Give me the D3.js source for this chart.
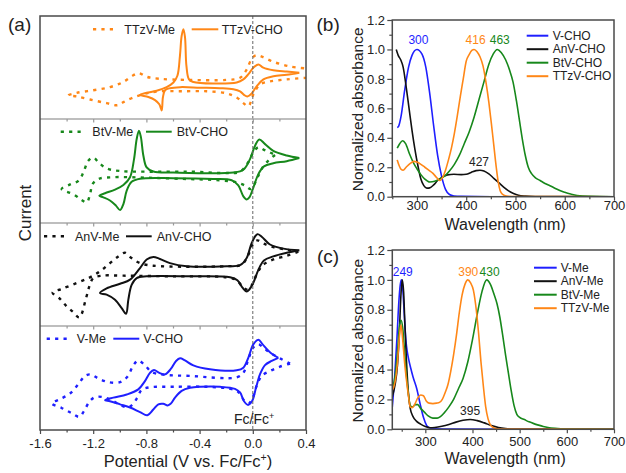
<!DOCTYPE html>
<html><head><meta charset="utf-8">
<script src="https://cdn.jsdelivr.net/npm/d3@7"></script>
<style>
html,body{margin:0;padding:0;background:#fff;}
svg{display:block;font-family:"Liberation Sans",Arial,sans-serif;}
</style></head><body>
<svg id="chart" width="626" height="473"></svg>
<script>
// ================= DATA =================
// Panel (a): cyclic voltammograms, [potential (V vs Fc/Fc+), relative current]
const cvMajorTicks = [-1.6,-1.2,-0.8,-0.4,0.0,0.4];
const cvMinorTicks = [-1.4,-1.0,-0.6,-0.2,0.2];

const cvTTzVCHO = [[0.35,-0.09],[0.255,-0.13],[0.155,-0.16],[0.08,-0.22],[0.03,-0.35],[-0.008,-0.49],[-0.041,-0.55],[-0.066,-0.52],[-0.096,-0.45],[-0.146,-0.41],[-0.247,-0.39],[-0.397,-0.38],[-0.547,-0.37],[-0.623,-0.39],[-0.66,-0.43],[-0.676,-0.57],[-0.685,-0.82],[-0.703,-0.70],[-0.735,-0.62],[-0.785,-0.56],[-0.848,-0.52],[-0.798,-0.48],[-0.723,-0.44],[-0.648,-0.37],[-0.597,-0.28],[-0.567,-0.15],[-0.548,0.23],[-0.535,0.62],[-0.522,0.75],[-0.51,0.60],[-0.499,0.04],[-0.48,-0.22],[-0.447,-0.27],[-0.297,-0.30],[-0.121,-0.28],[-0.071,-0.22],[-0.033,-0.12],[0.004,0.006],[0.042,0.07],[0.079,0.006],[0.154,-0.045],[0.255,-0.07],[0.35,-0.09]];
const cvTTzVMe = [[0.405,-0.19],[0.255,-0.22],[0.129,-0.26],[0.054,-0.32],[0.004,-0.51],[-0.034,-0.74],[-0.071,-0.68],[-0.121,-0.57],[-0.197,-0.49],[-0.347,-0.45],[-0.547,-0.45],[-0.698,-0.45],[-0.798,-0.49],[-0.898,-0.57],[-0.973,-0.66],[-1.019,-0.72],[-1.099,-0.68],[-1.224,-0.61],[-1.324,-0.55],[-1.387,-0.53],[-1.324,-0.48],[-1.199,-0.43],[-1.074,-0.37],[-0.973,-0.27],[-0.898,-0.14],[-0.856,-0.10],[-0.798,-0.17],[-0.698,-0.21],[-0.497,-0.23],[-0.197,-0.23],[-0.096,-0.19],[-0.046,-0.03],[-0.008,0.18],[0.024,0.245],[0.067,0.22],[0.154,0.12],[0.28,0.03],[0.405,-0.01]];

const cvBtVCHO = [[0.35,0.25],[0.255,0.19],[0.154,0.15],[0.084,0.09],[0.042,-0.06],[0.004,-0.32],[-0.026,-0.51],[-0.046,-0.55],[-0.071,-0.49],[-0.109,-0.28],[-0.159,-0.18],[-0.297,-0.155],[-0.597,-0.14],[-0.848,-0.15],[-0.911,-0.21],[-0.948,-0.38],[-0.973,-0.64],[-0.998,-0.755],[-1.029,-0.67],[-1.074,-0.57],[-1.124,-0.51],[-1.154,-0.48],[-1.111,-0.43],[-1.036,-0.36],[-0.973,-0.27],[-0.923,-0.12],[-0.893,0.23],[-0.873,0.62],[-0.856,0.78],[-0.841,0.65],[-0.823,0.30],[-0.798,0.07],[-0.748,-0.01],[-0.597,-0.03],[-0.146,-0.03],[-0.071,0.025],[-0.021,0.23],[0.017,0.49],[0.049,0.61],[0.092,0.52],[0.154,0.39],[0.255,0.30],[0.35,0.25]];
const cvBtVMe = [[0.167,0.31],[0.124,0.22],[0.079,0.09],[0.042,-0.09],[0.009,-0.27],[-0.016,-0.35],[-0.059,-0.28],[-0.121,-0.22],[-0.247,-0.18],[-0.497,-0.155],[-0.798,-0.13],[-1.049,-0.12],[-1.161,-0.155],[-1.204,-0.25],[-1.224,-0.45],[-1.249,-0.61],[-1.287,-0.56],[-1.349,-0.45],[-1.437,-0.35],[-1.374,-0.26],[-1.312,-0.19],[-1.274,-0.03],[-1.237,0.20],[-1.199,0.26],[-1.161,0.17],[-1.099,0.05],[-0.998,0.0],[-0.798,-0.013],[-0.472,-0.013],[-0.197,-0.04],[-0.096,-0.013],[-0.034,0.17],[0.004,0.36],[0.042,0.46],[0.084,0.41],[0.129,0.36],[0.167,0.31]];

const cvAnVCHO = [[0.35,0.48],[0.255,0.43],[0.154,0.36],[0.084,0.28],[0.042,0.10],[0.004,-0.15],[-0.026,-0.28],[-0.046,-0.32],[-0.076,-0.25],[-0.116,-0.10],[-0.171,-0.045],[-0.472,-0.026],[-0.798,-0.026],[-0.873,-0.06],[-0.911,-0.19],[-0.936,-0.48],[-0.953,-0.75],[-0.986,-0.64],[-1.036,-0.48],[-1.099,-0.38],[-1.149,-0.35],[-1.099,-0.26],[-0.998,-0.17],[-0.923,-0.09],[-0.848,0.135],[-0.798,0.30],[-0.748,0.35],[-0.698,0.31],[-0.623,0.23],[-0.497,0.17],[-0.197,0.17],[-0.096,0.19],[-0.046,0.33],[-0.008,0.62],[0.034,0.79],[0.067,0.74],[0.129,0.59],[0.23,0.51],[0.35,0.48]];
const cvAnVMe = [[0.342,0.45],[0.255,0.37],[0.154,0.30],[0.079,0.20],[0.034,0.04],[-0.006,-0.19],[-0.041,-0.28],[-0.076,-0.23],[-0.121,-0.10],[-0.197,-0.045],[-0.597,-0.026],[-0.973,-0.013],[-1.136,-0.013],[-1.199,-0.06],[-1.229,-0.22],[-1.254,-0.45],[-1.304,-0.82],[-1.349,-0.72],[-1.399,-0.61],[-1.45,-0.46],[-1.505,-0.34],[-1.437,-0.27],[-1.324,-0.155],[-1.224,-0.045],[-1.149,0.07],[-1.074,0.23],[-1.011,0.36],[-0.961,0.43],[-0.918,0.34],[-0.848,0.23],[-0.748,0.18],[-0.197,0.17],[-0.084,0.20],[-0.034,0.39],[0.004,0.61],[0.034,0.67],[0.079,0.61],[0.154,0.54],[0.255,0.49],[0.342,0.45]];

const cvVCHO = [[0.192,0.39],[0.142,0.33],[0.092,0.25],[0.054,0.07],[0.024,-0.19],[-0.006,-0.45],[-0.036,-0.52],[-0.066,-0.45],[-0.096,-0.28],[-0.134,-0.21],[-0.247,-0.17],[-0.397,-0.17],[-0.472,-0.19],[-0.535,-0.25],[-0.585,-0.38],[-0.618,-0.50],[-0.64,-0.53],[-0.673,-0.50],[-0.71,-0.51],[-0.748,-0.61],[-0.793,-0.72],[-0.848,-0.66],[-0.923,-0.57],[-0.998,-0.51],[-1.074,-0.45],[-1.111,-0.43],[-1.049,-0.38],[-0.948,-0.32],[-0.861,-0.22],[-0.811,-0.06],[-0.773,0.10],[-0.743,0.155],[-0.703,0.10],[-0.66,0.07],[-0.618,0.17],[-0.577,0.33],[-0.547,0.38],[-0.51,0.34],[-0.447,0.245],[-0.322,0.17],[-0.121,0.15],[-0.071,0.20],[-0.034,0.39],[0.004,0.65],[0.042,0.74],[0.074,0.65],[0.129,0.50],[0.192,0.39]];
const cvVMe = [[0.28,0.28],[0.205,0.22],[0.129,0.135],[0.067,0.04],[0.029,-0.15],[-0.001,-0.38],[-0.031,-0.49],[-0.066,-0.43],[-0.109,-0.27],[-0.171,-0.21],[-0.347,-0.17],[-0.597,-0.17],[-0.773,-0.18],[-0.836,-0.23],[-0.868,-0.38],[-0.911,-0.53],[-0.943,-0.57],[-0.998,-0.52],[-1.061,-0.43],[-1.124,-0.37],[-1.186,-0.37],[-1.229,-0.46],[-1.269,-0.64],[-1.304,-0.75],[-1.362,-0.68],[-1.437,-0.58],[-1.512,-0.49],[-1.45,-0.41],[-1.374,-0.30],[-1.312,-0.12],[-1.262,0.04],[-1.219,0.07],[-1.161,-0.01],[-1.086,-0.08],[-0.998,-0.08],[-0.943,0.026],[-0.898,0.245],[-0.861,0.34],[-0.811,0.245],[-0.76,0.116],[-0.673,0.065],[-0.472,0.04],[-0.121,0.013],[-0.071,0.10],[-0.034,0.36],[0.004,0.59],[0.042,0.65],[0.079,0.59],[0.129,0.49],[0.205,0.38],[0.28,0.28]];

// Panel (b): UV-vis of -CHO compounds, [wavelength nm, normalized absorbance]
const uvTicksBX = [300,400,500,600,700];
const uvMinorBX = [250,350,450,550,650];
const uvTicksY = [0.0,0.2,0.4,0.6,0.8,1.0,1.2];
const uvMinorY = [0.1,0.3,0.5,0.7,0.9,1.1];
const absVCHO = [[260,0.47],[263,0.48],[268,0.55],[275,0.72],[283,0.88],[290,0.96],[300,1.0],[310,0.97],[318,0.88],[326,0.70],[334,0.48],[342,0.28],[350,0.14],[358,0.05],[366,0.015],[375,0.005],[390,0.002],[450,0],[700,0]];
const absAnVCHO = [[258,1.0],[262,0.96],[267,0.93],[272,0.88],[278,0.75],[284,0.6],[290,0.45],[296,0.32],[302,0.21],[308,0.12],[314,0.075],[320,0.058],[326,0.06],[334,0.08],[342,0.11],[352,0.135],[362,0.148],[375,0.152],[390,0.15],[400,0.152],[410,0.165],[420,0.177],[428,0.18],[436,0.175],[446,0.155],[456,0.125],[466,0.095],[476,0.065],[486,0.04],[496,0.022],[506,0.01],[520,0.004],[540,0.001],[700,0]];
const absBtVCHO = [[260,0.33],[265,0.36],[271,0.38],[277,0.36],[285,0.29],[293,0.23],[300,0.19],[308,0.15],[316,0.12],[326,0.10],[336,0.105],[346,0.12],[356,0.14],[366,0.175],[376,0.22],[386,0.28],[396,0.36],[406,0.44],[416,0.54],[426,0.66],[436,0.78],[446,0.9],[455,0.97],[463,1.0],[471,0.98],[480,0.93],[488,0.86],[495,0.78],[502,0.65],[508,0.52],[514,0.39],[520,0.28],[526,0.2],[533,0.155],[540,0.13],[550,0.11],[560,0.09],[570,0.075],[580,0.058],[590,0.042],[600,0.03],[612,0.018],[625,0.008],[650,0.002],[700,0]];
const absTTzVCHO = [[260,0.25],[264,0.21],[268,0.185],[272,0.18],[278,0.2],[286,0.225],[294,0.24],[300,0.235],[308,0.22],[316,0.2],[324,0.18],[332,0.16],[340,0.13],[346,0.11],[352,0.13],[358,0.18],[364,0.25],[370,0.33],[376,0.43],[382,0.55],[388,0.68],[394,0.8],[400,0.92],[406,0.965],[412,0.995],[416,1.0],[422,0.985],[428,0.95],[434,0.89],[440,0.78],[446,0.64],[451,0.5],[456,0.35],[461,0.2],[465,0.1],[469,0.04],[474,0.015],[482,0.004],[500,0.001],[700,0]];

// Panel (c): UV-vis of -Me compounds
const uvTicksCX = [300,400,500,600,700];
const uvMinorCX = [250,350,450,550,650];
const absVMe = [[230,0.15],[235,0.35],[240,0.62],[244,0.86],[247,0.97],[249.5,1.0],[252,0.95],[254.5,0.82],[257,0.68],[260,0.56],[264,0.48],[269,0.41],[274,0.35],[282,0.27],[289,0.17],[296,0.08],[303,0.025],[310,0.008],[320,0.003],[360,0.001],[700,0]];
const absAnVMe = [[230,0.22],[236,0.3],[241,0.43],[245,0.65],[248,0.88],[251,1.0],[254,0.92],[256.5,0.72],[260,0.46],[264,0.25],[268,0.14],[274,0.085],[281,0.055],[290,0.035],[300,0.018],[310,0.01],[320,0.012],[335,0.02],[350,0.032],[365,0.048],[380,0.06],[395,0.066],[410,0.058],[425,0.043],[440,0.025],[455,0.012],[470,0.005],[490,0.002],[700,0]];
const absBtVMe = [[230,0.27],[236,0.36],[241,0.52],[245,0.68],[248.5,0.73],[252,0.68],[256,0.52],[260,0.36],[264,0.24],[268,0.16],[273,0.15],[279,0.165],[284,0.165],[290,0.14],[298,0.115],[306,0.09],[316,0.075],[325,0.075],[332,0.085],[340,0.11],[350,0.15],[360,0.2],[370,0.27],[380,0.34],[390,0.45],[400,0.6],[410,0.77],[420,0.92],[430,1.0],[438,0.97],[446,0.9],[452,0.84],[458,0.75],[464,0.63],[470,0.5],[476,0.38],[482,0.26],[488,0.16],[494,0.1],[500,0.08],[510,0.065],[520,0.05],[530,0.038],[540,0.028],[550,0.019],[560,0.012],[575,0.006],[600,0.002],[700,0]];
const absTTzVMe = [[230,0.26],[236,0.32],[241,0.45],[245,0.62],[248.5,0.7],[252,0.6],[256,0.45],[260,0.33],[264,0.23],[268,0.15],[272,0.145],[278,0.17],[284,0.21],[290,0.23],[296,0.225],[302,0.19],[308,0.175],[316,0.172],[324,0.175],[330,0.18],[336,0.2],[342,0.245],[348,0.3],[354,0.39],[360,0.5],[366,0.63],[372,0.78],[378,0.9],[384,0.97],[390,1.0],[396,0.98],[402,0.93],[408,0.8],[413,0.64],[418,0.45],[423,0.29],[428,0.15],[433,0.07],[438,0.03],[444,0.012],[452,0.004],[470,0.001],[700,0]];

// peak annotations
const peaksB = [["300",300],["416",416],["463",463],["427",427]];
const peaksC = [["249",249],["390",390],["430",430],["395",395]];

// ================= DRAWING =================
const ORANGE = "#ff8717", GREEN = "#17881b", BLUE = "#1f1fff", BLACK = "#111111";
const FRAME = "#4a4a4a";
const svg = d3.select("#chart");
const FONT = "'Liberation Sans', Arial, sans-serif";
const defs = svg.append("defs");

function styleAxis(g, size) {
  g.select(".domain").remove();
  g.selectAll(".tick line").attr("stroke", FRAME).attr("stroke-width", 1.2);
  g.selectAll(".tick text").attr("fill", "#222").attr("font-size", size).attr("font-family", FONT);
}

// ---------- Panel (a) ----------
const A = {l: 40, r: 306, t: 16, b: 430};
const xA = d3.scaleLinear().domain([-1.6, 0.4]).range([A.l, A.r]);
const subTops = [16, 119, 223, 326];
const cvSets = [
  {me: cvTTzVMe, cho: cvTTzVCHO, color: ORANGE, meName: "TTzV-Me", choName: "TTzV-CHO", leg: [93, 118, 124.3, 191.7, 218.3, 221.7], legY: 29.3},
  {me: cvBtVMe, cho: cvBtVCHO, color: GREEN, meName: "BtV-Me", choName: "BtV-CHO", leg: [60.7, 82.7, 92.3, 146, 171.7, 176.7], legY: 131.7},
  {me: cvAnVMe, cho: cvAnVCHO, color: BLACK, meName: "AnV-Me", choName: "AnV-CHO", leg: [44, 68.3, 75, 126, 151.7, 156.7], legY: 236.3},
  {me: cvVMe, cho: cvVCHO, color: BLUE, meName: "V-Me", choName: "V-CHO", leg: [46.7, 71.7, 76.7, 113.3, 139.3, 143.3], legY: 338.7}
];

defs.append("clipPath").attr("id", "clipA").append("rect")
  .attr("x", A.l).attr("y", A.t).attr("width", A.r - A.l).attr("height", A.b - A.t);

const gA = svg.append("g");
const gACurves = gA.append("g").attr("clip-path", "url(#clipA)");
const DOT = "3.2,5.2";

cvSets.forEach((s, i) => {
  const top = subTops[i];
  const y = d3.scaleLinear().domain([-1, 1]).range([top + 103.7, top + 0.3]);
  const line = d3.line().x(d => xA(d[0])).y(d => y(d[1])).curve(d3.curveCatmullRom.alpha(0.5));
  gACurves.append("path").attr("d", line(s.me)).attr("fill", "none")
    .attr("stroke", s.color).attr("stroke-width", 2.4).attr("stroke-dasharray", DOT);
  gACurves.append("path").attr("d", line(s.cho)).attr("fill", "none")
    .attr("stroke", s.color).attr("stroke-width", 2).attr("stroke-linejoin", "round");
  // legend
  const L = s.leg;
  gA.append("line").attr("x1", L[0]).attr("x2", L[1]).attr("y1", s.legY).attr("y2", s.legY)
    .attr("stroke", s.color).attr("stroke-width", 2.4).attr("stroke-dasharray", DOT);
  gA.append("text").attr("x", L[2]).attr("y", s.legY + 4.4).text(s.meName)
    .attr("font-size", 12.5).attr("fill", "#222");
  gA.append("line").attr("x1", L[3]).attr("x2", L[4]).attr("y1", s.legY).attr("y2", s.legY)
    .attr("stroke", s.color).attr("stroke-width", 2);
  gA.append("text").attr("x", L[5]).attr("y", s.legY + 4.4).text(s.choName)
    .attr("font-size", 12.5).attr("fill", "#222");
});

// Fc/Fc+ dashed reference line
gA.append("line").attr("x1", xA(0)).attr("x2", xA(0)).attr("y1", A.t).attr("y2", A.b)
  .attr("stroke", "#666").attr("stroke-width", 1).attr("stroke-dasharray", "3,2");

// separators with ticks
[119, 223, 326].forEach(yy => {
  gA.append("line").attr("x1", A.l).attr("x2", A.r).attr("y1", yy).attr("y2", yy)
    .attr("stroke", "#a8a8a8").attr("stroke-width", 1.5);
  const gm = gA.append("g").attr("transform", `translate(0,${yy})`)
    .call(d3.axisBottom(xA).tickValues(cvMajorTicks.slice(1, -1)).tickSize(3.5).tickFormat(""));
  styleAxis(gm, 0); gm.selectAll(".tick line").attr("stroke", "#999");
  const gn = gA.append("g").attr("transform", `translate(0,${yy})`)
    .call(d3.axisBottom(xA).tickValues(cvMinorTicks).tickSize(2.5).tickFormat(""));
  styleAxis(gn, 0); gn.selectAll(".tick line").attr("stroke", "#999");
});

// frame
gA.append("rect").attr("x", A.l).attr("y", A.t).attr("width", A.r - A.l).attr("height", A.b - A.t)
  .attr("fill", "none").attr("stroke", FRAME).attr("stroke-width", 1.5);

// bottom axis
const axA = gA.append("g").attr("transform", `translate(0,${A.b})`)
  .call(d3.axisBottom(xA).tickValues(cvMajorTicks).tickSize(4).tickPadding(4.3).tickFormat(d => d.toFixed(1)));
styleAxis(axA, 13);
const axAm = gA.append("g").attr("transform", `translate(0,${A.b})`)
  .call(d3.axisBottom(xA).tickValues(cvMinorTicks).tickSize(2.5).tickFormat(""));
styleAxis(axAm, 0);

// Fc/Fc+ label
const fcT = gA.append("text").attr("x", 234).attr("y", 424.3).attr("font-size", 14).attr("fill", "#222");
fcT.append("tspan").text("Fc/Fc");
fcT.append("tspan").text("+").attr("font-size", 9).attr("dy", -5.5);

// axis titles
const tA = svg.append("text").attr("x", 188).attr("y", 467).attr("text-anchor", "middle")
  .attr("font-size", 16.5).attr("fill", "#222");
tA.append("tspan").text("Potential (V vs. Fc/Fc");
tA.append("tspan").text("+").attr("font-size", 10.5).attr("dy", -6.5);
tA.append("tspan").text(")").attr("dy", 6.5);

svg.append("text").attr("transform", "translate(31,213) rotate(-90)").attr("text-anchor", "middle")
  .attr("font-size", 17).attr("fill", "#222").text("Current");

// panel labels
svg.append("text").attr("x", 8).attr("y", 31).attr("font-size", 19).attr("fill", "#222").text("(a)");
svg.append("text").attr("x", 316.5).attr("y", 31).attr("font-size", 19).attr("fill", "#222").text("(b)");
svg.append("text").attr("x", 317).attr("y", 263).attr("font-size", 19).attr("fill", "#222").text("(c)");

// ---------- UV-vis panels ----------
function uvPanel(cfg) {
  const {l, r, t, b, xDom, series, peaks, peakPos, legY, legX, titleYB, tickBaseline, id, xTicks, xMinor} = cfg;
  const x = d3.scaleLinear().domain(xDom).range([l, r]);
  const y = d3.scaleLinear().domain([0, 1.2]).range([b, t]);
  defs.append("clipPath").attr("id", id).append("rect")
    .attr("x", l).attr("y", t).attr("width", r - l).attr("height", b - t);
  const g = svg.append("g");
  const line = d3.line().x(d => x(d[0])).y(d => y(d[1])).curve(d3.curveMonotoneX);
  const gc = g.append("g").attr("clip-path", `url(#${id})`);
  series.forEach(s => {
    gc.append("path").attr("d", line(s.data)).attr("fill", "none")
      .attr("stroke", s.color).attr("stroke-width", 1.6).attr("stroke-linejoin", "round");
  });
  // frame
  g.append("rect").attr("x", l).attr("y", t).attr("width", r - l).attr("height", b - t)
    .attr("fill", "none").attr("stroke", FRAME).attr("stroke-width", 1.5);
  // axes
  const ay = g.append("g").attr("transform", `translate(${l},0)`)
    .call(d3.axisLeft(y).tickValues(uvTicksY).tickSize(5).tickPadding(2.3).tickFormat(d => d.toFixed(1)));
  styleAxis(ay, 13);
  const aym = g.append("g").attr("transform", `translate(${l},0)`)
    .call(d3.axisLeft(y).tickValues(uvMinorY).tickSize(3).tickFormat(""));
  styleAxis(aym, 0);
  const ax = g.append("g").attr("transform", `translate(0,${b})`)
    .call(d3.axisBottom(x).tickValues(xTicks).tickSize(4).tickPadding(tickBaseline).tickFormat(d => d));
  styleAxis(ax, 13);
  const axm = g.append("g").attr("transform", `translate(0,${b})`)
    .call(d3.axisBottom(x).tickValues(xMinor).tickSize(2.5).tickFormat(""));
  styleAxis(axm, 0);
  // titles
  g.append("text").attr("x", (l + r) / 2 + 2).attr("y", titleYB).attr("text-anchor", "middle")
    .attr("font-size", 16).attr("fill", "#222").text("Wavelength (nm)");
  g.append("text").attr("transform", `translate(363,${(t + b) / 2 + 1}) rotate(-90)`).attr("text-anchor", "middle")
    .attr("font-size", 15.5).attr("fill", "#222").text("Normalized absorbance");
  // legend
  series.forEach((s, i) => {
    const yy = legY[i];
    g.append("line").attr("x1", legX[0]).attr("x2", legX[1]).attr("y1", yy).attr("y2", yy)
      .attr("stroke", s.color).attr("stroke-width", 2);
    g.append("text").attr("x", legX[2]).attr("y", yy + 4.2).attr("font-size", 12)
      .attr("fill", "#222").text(s.name);
  });
  // peak labels
  peaks.forEach((p, i) => {
    g.append("text").attr("x", x(p[1]) + peakPos[i][0]).attr("y", peakPos[i][1])
      .attr("text-anchor", "middle").attr("font-size", 12).attr("fill", cfg.peakColors[i]).text(p[0]);
  });
}

uvPanel({
  id: "clipB", l: 392.3, r: 614, t: 20, b: 196.7, xDom: [250, 700],
  xTicks: uvTicksBX, xMinor: uvMinorBX, tickBaseline: 0.5, titleYB: 230,
  series: [
    {name: "V-CHO", color: BLUE, data: absVCHO},
    {name: "AnV-CHO", color: BLACK, data: absAnVCHO},
    {name: "BtV-CHO", color: GREEN, data: absBtVCHO},
    {name: "TTzV-CHO", color: ORANGE, data: absTTzVCHO}
  ],
  legY: [35.7, 49.2, 62.7, 76.2], legX: [526.7, 548.3, 552.7],
  peaks: peaksB, peakPos: [[1.5, 44.3], [1.5, 44.3], [2.5, 44.3], [-0.5, 166]],
  peakColors: [BLUE, ORANGE, GREEN, "#222"]
});

uvPanel({
  id: "clipC", l: 392.3, r: 614, t: 250, b: 429.3, xDom: [230, 700],
  xTicks: uvTicksCX, xMinor: uvMinorCX, tickBaseline: 3.5, titleYB: 464,
  series: [
    {name: "V-Me", color: BLUE, data: absVMe},
    {name: "AnV-Me", color: BLACK, data: absAnVMe},
    {name: "BtV-Me", color: GREEN, data: absBtVMe},
    {name: "TTzV-Me", color: ORANGE, data: absTTzVMe}
  ],
  legY: [267.7, 281.2, 294.7, 308.2], legX: [534, 556.7, 560.7],
  peaks: peaksC, peakPos: [[1.5, 276], [0.5, 276], [3, 276], [0, 415]],
  peakColors: [BLUE, ORANGE, GREEN, "#222"]
});
</script>
</body></html>
